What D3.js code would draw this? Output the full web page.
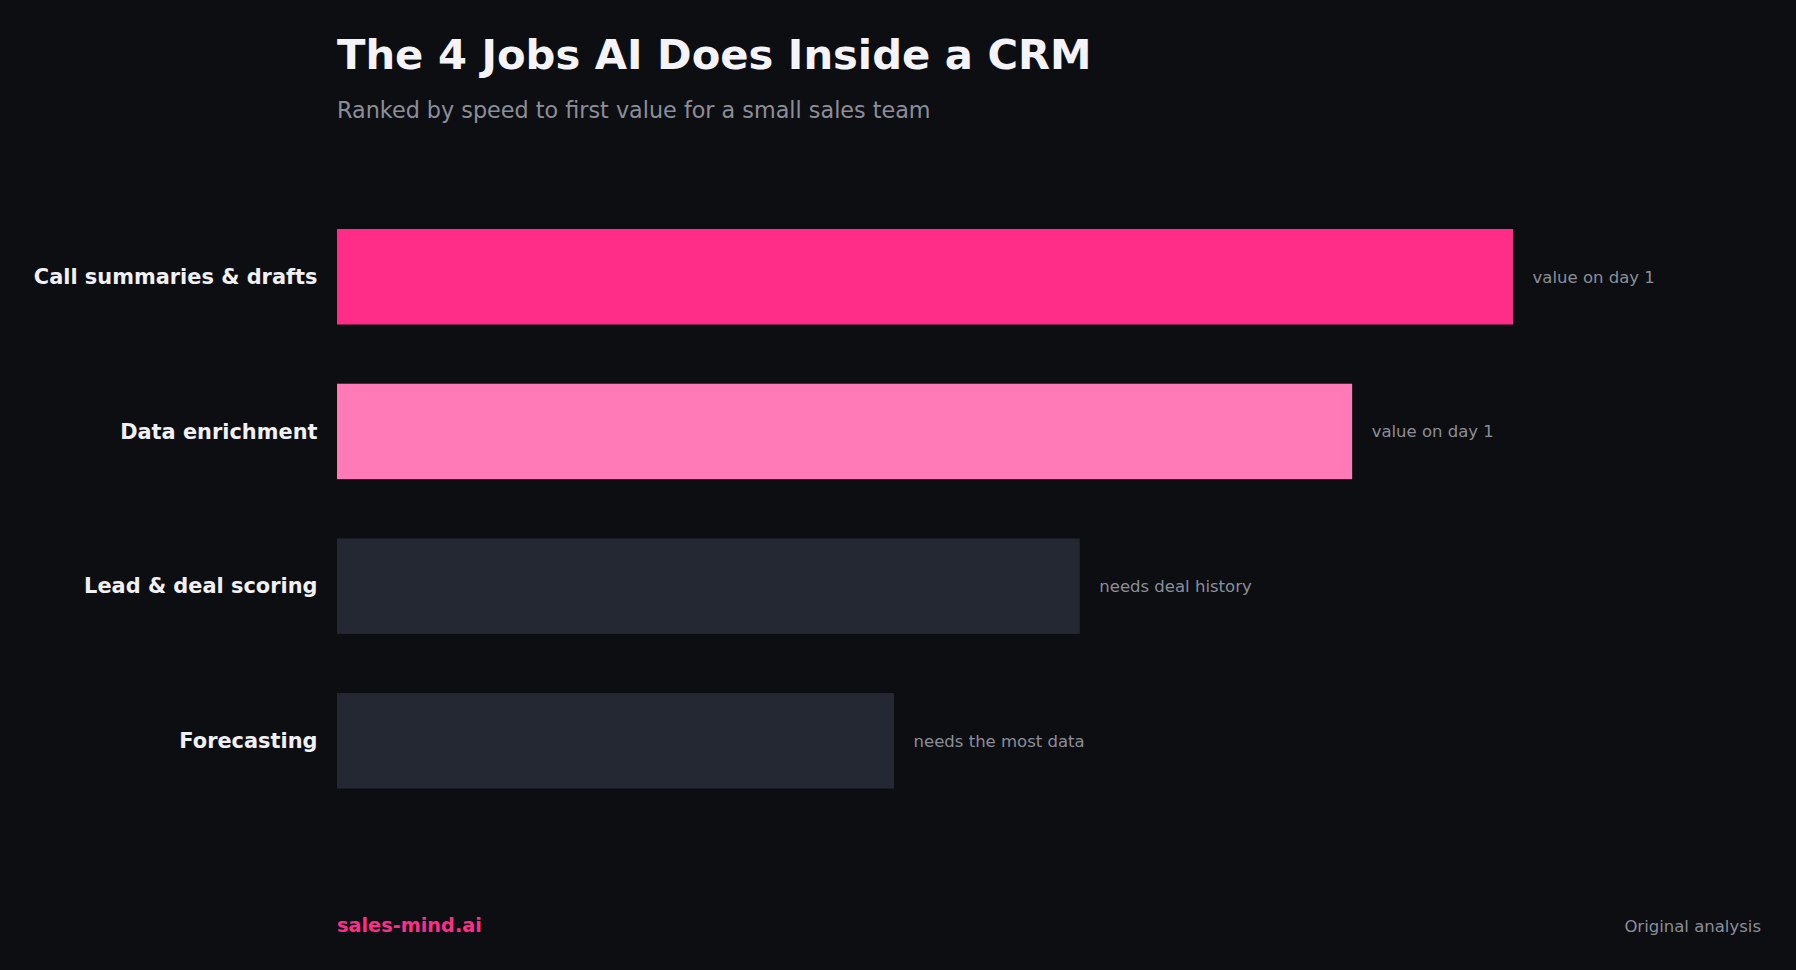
<!DOCTYPE html>
<meta charset="utf-8">
<head>
    <style>
        html, body {
            margin: 0;
            padding: 0;
            background-color: #0d0e12;
        }
        svg text {
            font-family: "DejaVu Sans", sans-serif;
        }
    </style>
    <script src="https://d3js.org/d3.v7.min.js"></script>
</head>
<body>
<svg id="chart"></svg>
<script>
    // chart data
    var jobs = ["Call summaries & drafts", "Data enrichment", "Lead & deal scoring", "Forecasting"];
    var speedScore = [95, 82, 60, 45];
    var notes = ["value on day 1", "value on day 1", "needs deal history", "needs the most data"];
    var barColors = ["#ff2d87", "#ff7ab6", "#242833", "#242833"];

    var width = 1796,
        height = 970;

    var svg = d3.select("#chart")
        .attr("width", width)
        .attr("height", height);

    svg.append("rect")
        .attr("width", width)
        .attr("height", height)
        .attr("fill", "#0d0e12");

    var x = d3.scaleLinear()
        .domain([0, 100])
        .range([337, 1575]);

    var y = d3.scaleBand()
        .domain(jobs)
        .range([199.4, 818.2])
        .paddingInner(0.383)
        .paddingOuter(0.1915);

    // title block
    svg.append("text")
        .attr("x", 337)
        .attr("y", 68.5)
        .style("font-size", "41.7px")
        .style("font-weight", "bold")
        .attr("fill", "#f4f4f8")
        .text("The 4 Jobs AI Does Inside a CRM");

    svg.append("text")
        .attr("x", 337)
        .attr("y", 118)
        .style("font-size", "22.3px")
        .attr("fill", "#8b8e99")
        .text("Ranked by speed to first value for a small sales team");

    var rows = svg.append("g")
        .selectAll("g")
        .data(jobs)
        .enter()
        .append("g");

    rows.append("rect")
        .attr("x", x(0))
        .attr("y", function(d){ return y(d); })
        .attr("width", function(d, i){ return x(speedScore[i]) - x(0); })
        .attr("height", y.bandwidth())
        .attr("fill", function(d, i){ return barColors[i]; });

    rows.append("text")
        .attr("x", x(0) - 19.5)
        .attr("y", function(d){ return y(d) + y.bandwidth() / 2; })
        .attr("dy", "0.35em")
        .attr("text-anchor", "end")
        .style("font-size", "20.9px")
        .style("font-weight", "bold")
        .attr("fill", "#f0f0f5")
        .text(function(d){ return d; });

    rows.append("text")
        .attr("x", function(d, i){ return x(speedScore[i]) + 19.5; })
        .attr("y", function(d){ return y(d) + y.bandwidth() / 2; })
        .attr("dy", "0.35em")
        .style("font-size", "16.5px")
        .attr("fill", "#8b8e99")
        .text(function(d, i){ return notes[i]; });

    // footer
    svg.append("text")
        .attr("x", 337)
        .attr("y", 932)
        .style("font-size", "19.3px")
        .style("font-weight", "bold")
        .attr("fill", "#ff2d87")
        .text("sales-mind.ai");

    svg.append("text")
        .attr("x", 1761)
        .attr("y", 932)
        .attr("text-anchor", "end")
        .style("font-size", "16.5px")
        .attr("fill", "#8b8e99")
        .text("Original analysis");
</script>
</body>
</html>
